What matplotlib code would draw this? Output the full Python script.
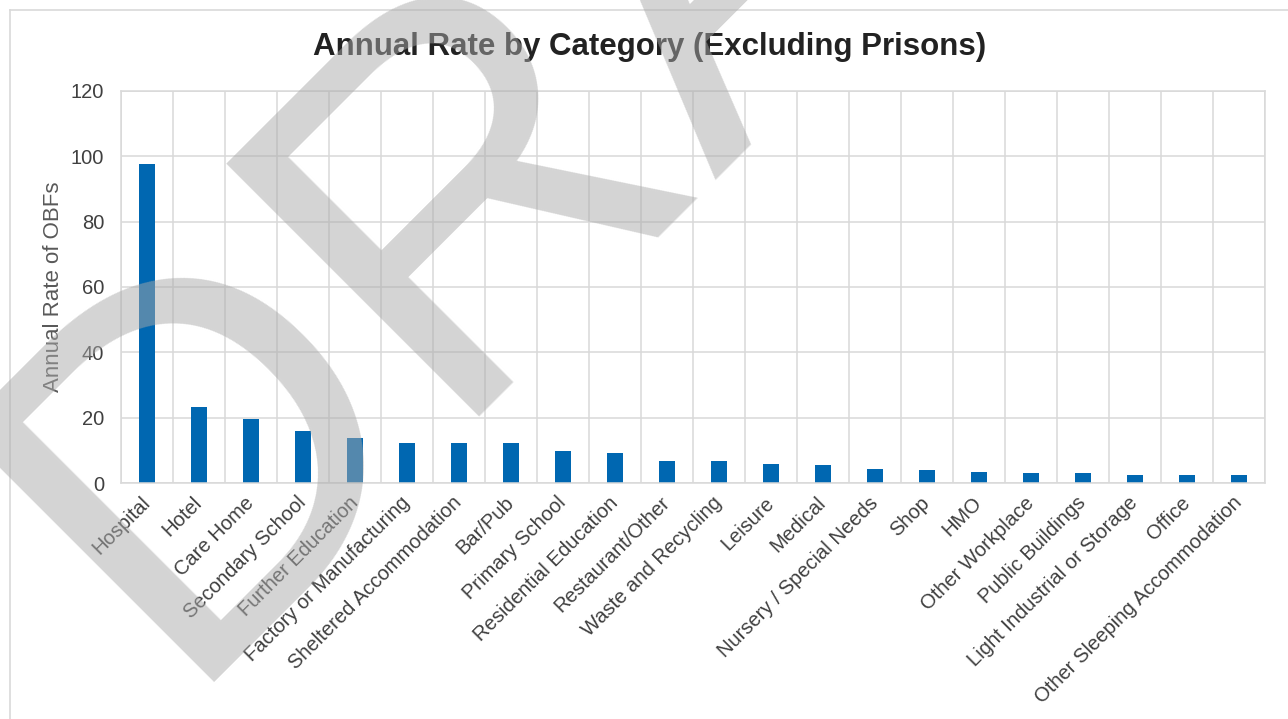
import numpy as np
import matplotlib
matplotlib.use('Agg')
from matplotlib import pyplot as plt
from matplotlib.lines import Line2D

categories = ['Hospital', 'Hotel', 'Care Home', 'Secondary School', 'Further Education',
              'Factory or Manufacturing', 'Sheltered Accommodation', 'Bar/Pub', 'Primary School',
              'Residential Education', 'Restaurant/Other', 'Waste and Recycling', 'Leisure',
              'Medical', 'Nursery / Special Needs', 'Shop', 'HMO', 'Other Workplace',
              'Public Buildings', 'Light Industrial or Storage', 'Office',
              'Other Sleeping Accommodation']
rates = [97.7, 23.4, 19.8, 16.0, 13.9, 12.4, 12.3, 12.2, 9.9, 9.2, 6.8, 6.7, 6.0,
         5.5, 4.5, 4.0, 3.5, 3.2, 3.1, 2.6, 2.4, 2.4]
y_ticks = [0, 20, 40, 60, 80, 100, 120]

plt.rcParams['font.family'] = ['Liberation Sans', 'DejaVu Sans']

W, H = 1288, 719
fig = plt.figure(figsize=(W / 100, H / 100), dpi=100)
ax = fig.add_axes([121 / W, 1 - 483.3 / H, (1265 - 121) / W, (483.3 - 90.7) / H])

x = np.arange(len(categories))
ax.bar(x, rates, width=0.31, color='#0067b1', zorder=2)

ax.set_xlim(-0.5, len(categories) - 0.5)
ax.set_ylim(0, 120)
ax.set_yticks(y_ticks)
ax.set_xticks(x)
ax.set_xticks(np.arange(-0.5, len(categories), 1), minor=True)
ax.set_xticklabels(categories, rotation=45, ha='right', va='center',
                   rotation_mode='anchor', fontsize=14.5, color='#404040')
ax.tick_params(axis='x', which='both', length=0, pad=12)
ax.tick_params(axis='y', length=0, pad=12, labelsize=14.5, labelcolor='#404040')
ax.grid(axis='y', which='major', color='#d9d9d9', lw=1.1, zorder=0)
ax.grid(axis='x', which='minor', color='#d9d9d9', lw=1.1, zorder=0)
for s in ax.spines.values():
    s.set_color('#d9d9d9')
    s.set_linewidth(1.1)

ax.set_ylabel('Annual Rate of OBFs', fontsize=16, color='#595959', labelpad=5)
fig.text(649.5 / W, 1 - 47 / H, 'Annual Rate by Category (Excluding Prisons)',
         ha='center', va='center', fontsize=22.5, fontweight='bold', color='#222222')

# chart area border (top and left only visible)
fig.add_artist(Line2D([10 / W, 1], [1 - 10 / H, 1 - 10 / H], transform=fig.transFigure,
                      color='#d9d9d9', lw=1.2))
fig.add_artist(Line2D([10 / W, 10 / W], [0, 1 - 10 / H], transform=fig.transFigure,
                      color='#d9d9d9', lw=1.2))

# DRAFT watermark
fig.text(172 / W, 1 - 683 / H, 'DRAFT', rotation=45, rotation_mode='anchor',
         ha='left', va='baseline', fontsize=375, color='#aaaaaa', alpha=0.5, zorder=10)

fig.savefig('out.png', dpi=100)
